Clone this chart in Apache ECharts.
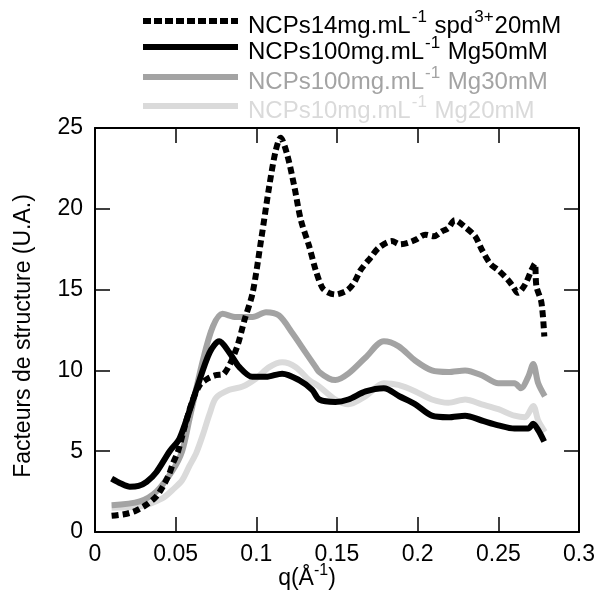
<!DOCTYPE html>
<html>
<head>
<meta charset="utf-8">
<script src="https://cdn.jsdelivr.net/npm/echarts@6/dist/echarts.min.js"></script>
<style>html,body{margin:0;padding:0;background:#fff;}#c{width:598px;height:592px;}</style>
</head>
<body>
<div id="c"></div>
<script>
// ---- data ----
var seriesNames = [
  'NCPs14mg.mL-1 spd3+20mM',
  'NCPs100mg.mL-1 Mg50mM',
  'NCPs100mg.mL-1 Mg30mM',
  'NCPs10mg.mL-1 Mg20mM'
];
var xTicks = [0, 0.05, 0.1, 0.15, 0.2, 0.25, 0.3];
var yTicks = [0, 5, 10, 15, 20, 25];

var spd20 = [[0.0103,1.0],[0.018,1.1],[0.025,1.3],[0.032,1.7],[0.038,2.2],[0.042,2.8],[0.046,3.6],[0.0485,4.3],[0.0515,5.0],[0.055,6.3],[0.06,8.0],[0.065,9.1],[0.07,9.5],[0.075,9.7],[0.080,9.8],[0.0875,11.3],[0.0926,13.1],[0.0977,14.8],[0.103,18.1],[0.108,21.4],[0.112,23.6],[0.115,24.4],[0.119,23.4],[0.1235,21.4],[0.1276,19.3],[0.1327,17.7],[0.1368,16.2],[0.141,15.1],[0.145,14.8],[0.149,14.7],[0.153,14.8],[0.157,15.0],[0.161,15.5],[0.1646,16.2],[0.171,17.0],[0.176,17.6],[0.184,18.0],[0.189,17.8],[0.194,17.9],[0.199,18.1],[0.2047,18.4],[0.21,18.3],[0.215,18.6],[0.219,18.8],[0.223,19.3],[0.229,18.9],[0.2356,18.3],[0.2396,17.5],[0.245,16.6],[0.25,16.2],[0.256,15.6],[0.259,15.2],[0.262,14.8],[0.2665,15.3],[0.2705,16.2],[0.2726,16.6],[0.2736,15.2],[0.2767,14.2],[0.2785,12.1]];
var mg50 = [[0.0103,3.3],[0.016,3.0],[0.0216,2.8],[0.027,2.85],[0.032,3.1],[0.038,3.7],[0.0463,5.0],[0.0525,5.8],[0.0628,8.8],[0.071,11.1],[0.077,11.8],[0.0833,11.1],[0.0895,10.2],[0.0975,9.6],[0.106,9.6],[0.116,9.8],[0.1265,9.4],[0.1346,8.8],[0.139,8.2],[0.149,8.05],[0.157,8.2],[0.1677,8.7],[0.179,8.9],[0.1886,8.4],[0.1986,7.9],[0.2088,7.2],[0.219,7.1],[0.2294,7.2],[0.2397,6.9],[0.25,6.6],[0.26,6.4],[0.2685,6.4],[0.2716,6.7],[0.2747,6.3],[0.2784,5.6]];
var mg30 = [[0.0103,1.65],[0.0278,1.9],[0.038,2.5],[0.048,3.8],[0.054,5.0],[0.0586,7.0],[0.0668,10.6],[0.073,12.7],[0.079,13.5],[0.0875,13.3],[0.0977,13.3],[0.106,13.6],[0.114,13.4],[0.1224,12.3],[0.1306,11.1],[0.1368,10.2],[0.139,9.9],[0.145,9.5],[0.149,9.4],[0.157,9.8],[0.1677,10.8],[0.179,11.8],[0.188,11.5],[0.1986,10.6],[0.2088,10.0],[0.219,9.9],[0.2294,10.0],[0.2397,9.7],[0.25,9.2],[0.26,9.2],[0.264,8.9],[0.2685,9.6],[0.2716,10.4],[0.2747,9.2],[0.2788,8.4]];
var mg20 = [[0.0103,1.5],[0.0278,1.57],[0.042,2.1],[0.048,2.6],[0.054,3.2],[0.0586,4.1],[0.0628,4.9],[0.0668,6.0],[0.071,7.3],[0.075,8.3],[0.0833,8.8],[0.0915,9.0],[0.0998,9.5],[0.108,10.2],[0.116,10.5],[0.1245,10.2],[0.1327,9.4],[0.139,9.0],[0.149,8.2],[0.157,7.9],[0.1677,8.4],[0.179,9.2],[0.188,9.1],[0.1986,8.7],[0.2088,8.2],[0.219,8.0],[0.2294,8.2],[0.2397,7.9],[0.25,7.6],[0.26,7.2],[0.2665,7.1],[0.2716,7.8],[0.2747,6.9],[0.2788,6.2]];

// ---- styling ----
var FONT = '"Liberation Sans", Arial, Helvetica, sans-serif';
var colors = ['#000000', '#000000', '#a3a3a3', '#dadada'];
var legendRich = [
  '{a|NCPs14mg.mL}{s|-1}{a| spd}{s|3+}{a|20mM}',
  '{a|NCPs100mg.mL}{s|-1}{a| Mg50mM}',
  '{a|NCPs100mg.mL}{s|-1}{a| Mg30mM}',
  '{a|NCPs10mg.mL}{s|-1}{a| Mg20mM}'
];
var legendRowY = [21, 47, 77, 106];

var chart = echarts.init(document.getElementById('c'), null, {renderer: 'canvas'});

var graphics = [];
for (var i = 0; i < 4; i++) {
  graphics.push({
    type: 'line',
    shape: {x1: 143, y1: legendRowY[i], x2: 238, y2: legendRowY[i]},
    style: {stroke: colors[i], lineWidth: 6, lineDash: i === 0 ? [8, 3] : null, lineCap: 'butt'},
    z: 100
  });
  graphics.push({
    type: 'text',
    x: 248, y: legendRowY[i] + 5,
    style: {
      text: legendRich[i],
      align: 'left', verticalAlign: 'middle',
      fill: colors[i],
      rich: {
        a: {fontSize: 24, lineHeight: 34, fontFamily: FONT, fill: colors[i]},
        s: {fontSize: 17, lineHeight: 17, fontFamily: FONT, fill: colors[i], verticalAlign: 'top', padding: [0, 1, 0, 1]}
      }
    },
    z: 100
  });
}
// axis titles
graphics.push({
  type: 'text', x: 24, y: 336, rotation: Math.PI / 2,
  style: {text: 'Facteurs de structure (U.A.)', fontSize: 23, fontFamily: FONT, fill: '#000', align: 'center', verticalAlign: 'middle'},
  z: 100
});
graphics.push({
  type: 'text', x: 307, y: 579,
  style: {
    text: '{a|q(Å}{s|-1}{a|)}', align: 'center', verticalAlign: 'middle', fill: '#000',
    rich: {
      a: {fontSize: 23, lineHeight: 32, fontFamily: FONT, fill: '#000'},
      s: {fontSize: 16, lineHeight: 16, fontFamily: FONT, fill: '#000', verticalAlign: 'top'}
    }
  },
  z: 100
});

var axisLine = {show: true, onZero: false, lineStyle: {color: '#000', width: 2}};
var tickIn = {show: true, inside: true, length: 15, lineStyle: {color: '#000', width: 1.5}};

function mkSeries(name, data, color, dashed, z) {
  return {
    name: name, type: 'line', data: data, xAxisIndex: 0, yAxisIndex: 0,
    showSymbol: false, symbol: 'none', smooth: 0.3, z: z,
    lineStyle: {color: color, width: 6, type: dashed ? [7, 4] : 'solid', cap: 'butt', join: 'round'},
    itemStyle: {color: color},
    emphasis: {disabled: true},
    animation: false
  };
}

chart.setOption({
  animation: false,
  backgroundColor: '#ffffff',
  grid: {left: 95, right: 17, top: 128, bottom: 60, containLabel: false},
  xAxis: [{
    type: 'value', min: xTicks[0], max: xTicks[xTicks.length - 1], interval: 0.05,
    position: 'bottom',
    axisLine: axisLine, axisTick: tickIn, splitLine: {show: false},
    axisLabel: {fontSize: 23, fontFamily: FONT, color: '#000', margin: 11,
      formatter: function (v) { return String(+v.toFixed(2)); }}
  }, {
    type: 'value', min: xTicks[0], max: xTicks[xTicks.length - 1], interval: 0.05,
    position: 'top',
    axisLine: axisLine, axisTick: tickIn, splitLine: {show: false},
    axisLabel: {show: false}
  }],
  yAxis: [{
    type: 'value', min: yTicks[0], max: yTicks[yTicks.length - 1], interval: 5,
    position: 'left',
    axisLine: axisLine, axisTick: tickIn, splitLine: {show: false},
    axisLabel: {fontSize: 23, fontFamily: FONT, color: '#000', margin: 12}
  }, {
    type: 'value', min: yTicks[0], max: yTicks[yTicks.length - 1], interval: 5,
    position: 'right',
    axisLine: axisLine, axisTick: tickIn, splitLine: {show: false},
    axisLabel: {show: false}
  }],
  series: [
    mkSeries(seriesNames[3], mg20, colors[3], false, 2),
    mkSeries(seriesNames[2], mg30, colors[2], false, 3),
    mkSeries(seriesNames[1], mg50, colors[1], false, 4),
    mkSeries(seriesNames[0], spd20, colors[0], true, 5)
  ],
  graphic: graphics
});
</script>
</body>
</html>
